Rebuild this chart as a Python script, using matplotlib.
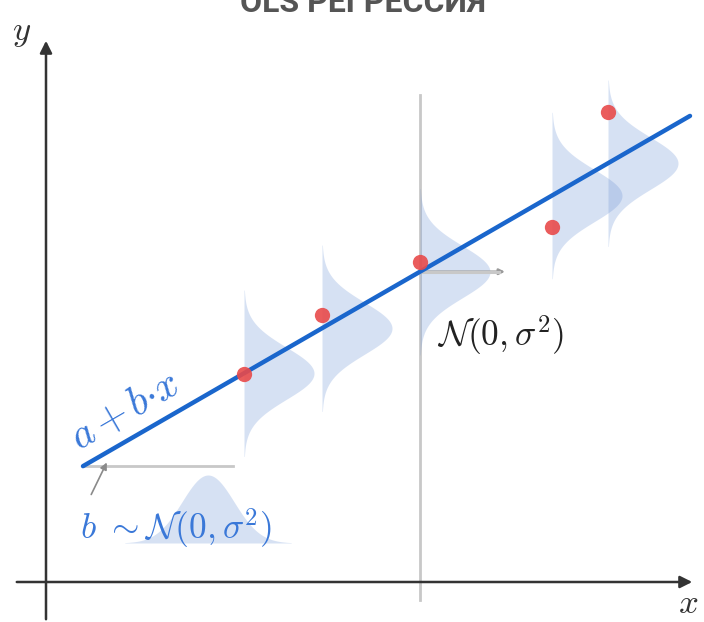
import matplotlib.pyplot as plt
import numpy as np

plt.rcParams['mathtext.fontset'] = 'cm'

# observations
xs = [3.96, 5.52, 7.48, 10.12, 11.24]
ys = [4.16, 5.34, 6.40, 7.10, 9.40]

# fitted line y = a + b*x
a = 1.89
b = 0.577
line_x = [0.74, 12.88]

# error distribution
sigma = 0.52
amp = 1.4

# prior for b, drawn lying under the line start
prior_center = 3.24
prior_base = 0.78
prior_amp = 1.36

blue = '#1a66cc'
label_blue = '#3a78d8'
fill_c = '#6f95d6'
gray = '#c8c8c8'
axis_c = '#333333'

fig = plt.figure(figsize=(7.04, 6.22), dpi=100)
ax = fig.add_axes([0, 0, 1, 1])
ax.set_xlim(-0.92, 13.16)
ax.set_ylim(-0.8, 11.64)
ax.axis('off')

# axes with arrows
ax.annotate('', xy=(12.98, 0), xytext=(-0.64, 0),
            arrowprops=dict(arrowstyle='-|>', color=axis_c, lw=1.8, mutation_scale=18))
ax.annotate('', xy=(0, 10.88), xytext=(0, -0.8),
            arrowprops=dict(arrowstyle='-|>', color=axis_c, lw=1.8, mutation_scale=18))
ax.text(-0.48, 11.0, '$y$', fontsize=25, ha='center', va='center', color=axis_c)
ax.text(12.84, -0.42, '$x$', fontsize=25, ha='center', va='center', color=axis_c)

# vertical guide at the third point
ax.plot([xs[2], xs[2]], [-0.36, 9.74], color=gray, lw=2, zorder=1)

# gaussian error curves around the line
for x0 in xs:
    c = a + b * x0
    yy = np.linspace(c - 3.2 * sigma, c + 3.2 * sigma, 200)
    ax.fill_betweenx(yy, x0, x0 + amp * np.exp(-(yy - c) ** 2 / (2 * sigma ** 2)),
                     color=fill_c, alpha=0.28, lw=0, zorder=2)

# horizontal guide at the third point
c3 = a + b * xs[2]
ax.annotate('', xy=(9.18, c3), xytext=(xs[2], c3),
            arrowprops=dict(arrowstyle='-|>', color='#9a9a9a', lw=1.8, mutation_scale=8,
                            shrinkA=0, shrinkB=0), zorder=2)
ax.plot([xs[2], 9.05], [c3, c3], color=gray, lw=2.2, zorder=2)

# prior under the start of the line
y0 = a + b * line_x[0]
ax.plot([line_x[0], 3.74], [y0, y0], color=gray, lw=2, zorder=1)
px = np.linspace(prior_center - 3.2 * sigma, prior_center + 3.2 * sigma, 200)
ax.fill_between(px, prior_base,
                prior_base + prior_amp * np.exp(-(px - prior_center) ** 2 / (2 * sigma ** 2)),
                color=fill_c, alpha=0.28, lw=0, zorder=2)
ax.annotate('', xy=(1.24, 2.44), xytext=(0.88, 1.7),
            arrowprops=dict(arrowstyle='-|>', color='#8a8a8a', lw=1.2, mutation_scale=10))

# regression line and points
lx = np.array(line_x)
ax.plot(lx, a + b * lx, color=blue, lw=3.2, solid_capstyle='round', zorder=4)
ax.plot(xs, ys, 'o', color='#e84a4a', ms=11, mec='none', alpha=0.9, zorder=5)

# labels
ax.text(7.82, 4.94, r'$\mathcal{N}(0,\sigma^2)$', fontsize=25.5, ha='left', va='center',
        color='#222222')
ax.text(0.68, 1.08, r'$b\ {\sim}\mathcal{N}(0,\sigma^2)$', fontsize=25.5, ha='left',
        va='center', color=label_blue)
ax.text(0.66, 2.62, r'$a\,{+}\,b{\cdot}x$', fontsize=30, ha='left', va='baseline',
        rotation=np.degrees(np.arctan(b)), rotation_mode='anchor', color=label_blue)

fig.text(0.516, 0.981, 'OLS РЕГРЕССИЯ', fontsize=23, fontweight='bold',
         family=['Roboto', 'DejaVu Sans'], color='#555555',
         ha='center', va='baseline')

fig.savefig('out.png', dpi=100)
